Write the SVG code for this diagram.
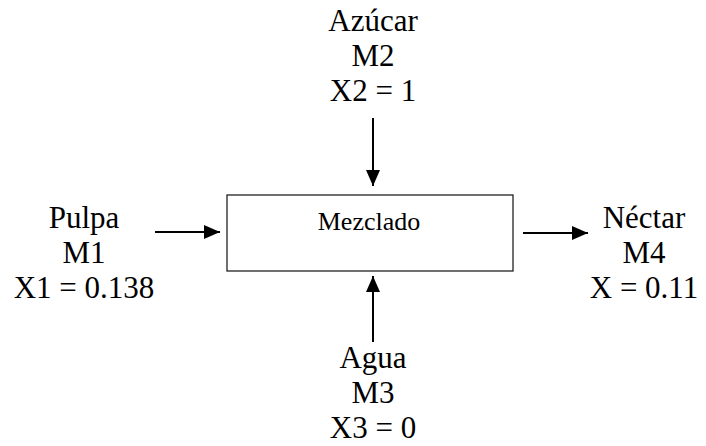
<svg xmlns="http://www.w3.org/2000/svg" width="706" height="446" viewBox="0 0 706 446">
<style>
.t{font-family:'Times New Roman','Liberation Serif','DejaVu Serif',serif;fill:#000;text-anchor:middle}
.lbl{font-size:31px}
.box{fill:#fff;stroke:#222;stroke-width:1.3}
.conn{stroke:#000;stroke-width:2;fill:none}
</style>
<defs>
<marker id="ah" markerWidth="16" markerHeight="14" refX="16" refY="7" orient="auto" markerUnits="userSpaceOnUse">
<path d="M0,0 L16,7 L0,14 Z" fill="#000"/>
</marker>
</defs>
<rect width="706" height="446" fill="#fff"/>
<g id="mezclado">
<rect class="box" x="227" y="195" width="286" height="76"/>
<text class="t" x="369" y="230" font-size="26">Mezclado</text>
</g>
<g id="pulpa">
<text class="t lbl" x="84" y="228">Pulpa</text>
<text class="t lbl" x="84" y="263">M1</text>
<text class="t lbl" x="84" y="298">X1 = 0.138</text>
</g>
<g id="azucar">
<text class="t lbl" x="373" y="31">Azúcar</text>
<text class="t lbl" x="373" y="66">M2</text>
<text class="t lbl" x="373" y="101">X2 = 1</text>
</g>
<g id="agua">
<text class="t lbl" x="373" y="368">Agua</text>
<text class="t lbl" x="373" y="403">M3</text>
<text class="t lbl" x="373" y="438">X3 = 0</text>
</g>
<g id="nectar">
<text class="t lbl" x="644" y="228">Néctar</text>
<text class="t lbl" x="644" y="263">M4</text>
<text class="t lbl" x="644" y="298">X = 0.11</text>
</g>
<g id="connectors">
<line class="conn" x1="155" y1="232" x2="220" y2="232" marker-end="url(#ah)"/>
<line class="conn" x1="373" y1="118" x2="373" y2="186" marker-end="url(#ah)"/>
<line class="conn" x1="373" y1="342" x2="373" y2="276" marker-end="url(#ah)"/>
<line class="conn" x1="523" y1="233" x2="588" y2="233" marker-end="url(#ah)"/>
</g>
</svg>
